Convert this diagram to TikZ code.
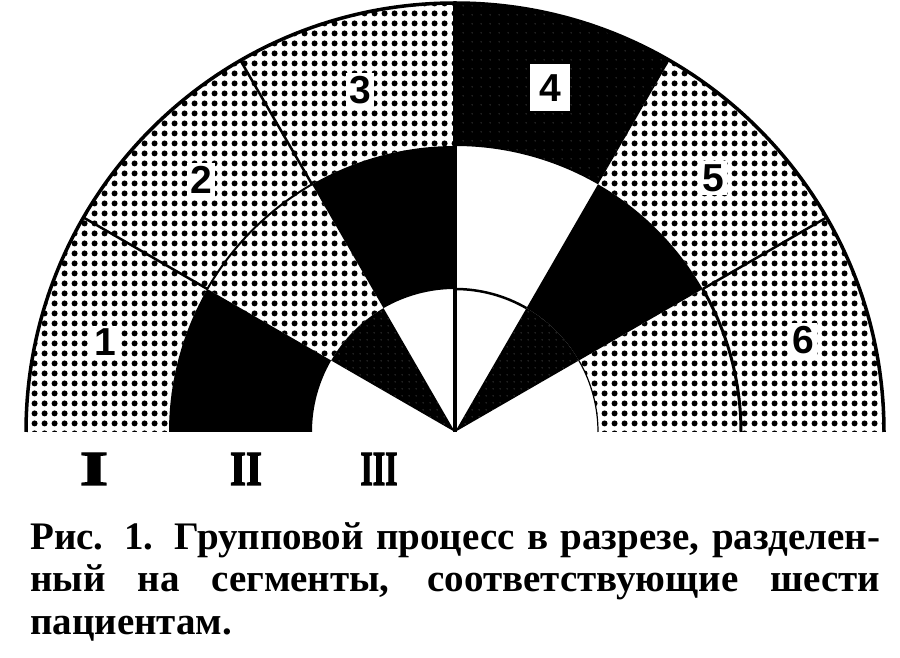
\documentclass[tikz,border=0pt]{standalone}
\usepackage{fontspec}
\setmainfont{Liberation Serif}
\setsansfont{Liberation Sans}
\newfontfamily\heavyserif{Liberation Serif}[FakeBold=3]
\usetikzlibrary{patterns}
\pgfdeclarepatternformonly{halftone}{\pgfqpoint{0pt}{0pt}}{\pgfqpoint{10pt}{10pt}}{\pgfqpoint{10pt}{10pt}}{\pgfpathcircle{\pgfqpoint{5pt}{5pt}}{3.3pt}\pgfusepath{fill}}
\pgfdeclarepatternformonly{specks}{\pgfqpoint{0pt}{0pt}}{\pgfqpoint{7pt}{7pt}}{\pgfqpoint{7pt}{7pt}}{\pgfpathcircle{\pgfqpoint{3.5pt}{3.5pt}}{0.45pt}\pgfusepath{fill}}
\pgfdeclarepatternformonly{sparsespecks}{\pgfqpoint{0pt}{0pt}}{\pgfqpoint{9pt}{9pt}}{\pgfqpoint{9pt}{9pt}}{\pgfpathcircle{\pgfqpoint{4.5pt}{4.5pt}}{0.4pt}\pgfusepath{fill}}
% ring segment: style, start angle, end angle, inner radius, outer radius
\newcommand{\ringseg}[5]{\path[#1] (#2:#5) arc[start angle=#2, end angle=#3, radius=#5] -- (#3:#4) arc[start angle=#3, end angle=#2, radius=#4] -- cycle;}
\begin{document}
\begin{tikzpicture}[x=1pt,y=1pt,
  lite/.style={pattern=halftone, pattern color=black},
  blackfill/.style={fill=black},
  speckfill/.style={pattern=specks, pattern color=white},
  sparsefill/.style={pattern=sparsespecks, pattern color=white},
  border/.style={line width=3.5pt},
  divider/.style={line width=2.5pt},
  digit/.style={font=\sffamily\bfseries\fontsize{39}{39}\selectfont, fill=white, inner sep=3pt, text=black},
  roman/.style={inner sep=0pt},
  capline/.style={anchor=base west, inner sep=0pt, font=\fontsize{39}{44}\selectfont\bfseries}]
\useasboundingbox (0,0) rectangle (900,658);
\fill[white] (0,0) rectangle (900,658);
\begin{scope}[shift={(455,226)}]
  % sector 1 (150-180)
  \ringseg{lite}{150}{180}{286}{429}
  \ringseg{blackfill}{150}{180}{143}{286}
  % sector 2 (120-150)
  \ringseg{lite}{120}{150}{143}{429}
  \ringseg{blackfill}{120}{150}{0.01}{143}
  \ringseg{speckfill}{120}{150}{0.01}{143}
  % sector 3 (90-120)
  \ringseg{lite}{90}{120}{286}{429}
  \ringseg{blackfill}{90}{120}{143}{286}
  % sector 4 (60-90)
  \ringseg{blackfill}{60}{90}{286}{429}
  \ringseg{sparsefill}{60}{90}{286}{429}
  % sector 5 (30-60)
  \ringseg{lite}{30}{60}{286}{429}
  \ringseg{blackfill}{30}{60}{143}{286}
  \ringseg{blackfill}{30}{60}{0.01}{143}
  \ringseg{speckfill}{30}{60}{0.01}{143}
  % sector 6 (0-30)
  \ringseg{lite}{0}{30}{143}{429}
  % lines
  \draw[border] (0:429) arc[start angle=0, end angle=180, radius=429];
  \draw[divider] (150:286) -- (150:429);
  \draw[divider] (120:286) -- (120:429);
  \draw[divider] (30:286) -- (30:429);
  \draw[line width=4pt] (0,0) -- (90:429);
  \draw[line width=2pt] (120:286) arc[start angle=120, end angle=150, radius=286];
  \draw[line width=3pt] (0:286) arc[start angle=0, end angle=30, radius=286];
  \draw[line width=2.5pt] (60:143) arc[start angle=60, end angle=90, radius=143];
  \draw[line width=1.2pt] (0:143) arc[start angle=0, end angle=30, radius=143];
\end{scope}
% segment numbers
\node[digit] (n1) at (105,316) {1};
\node[digit] (n2) at (201,478) {2};
\node[digit] (n3) at (360,568) {3};
\node[digit, minimum width=40pt, minimum height=47pt] (n4) at (550,570) {4};
\node[digit] (n5) at (713,480) {5};
\node[digit] (n6) at (803,318) {6};
% ring numerals
\node[roman] (r1) at (94,189) {\resizebox{28pt}{32pt}{\heavyserif\bfseries I}};
\node[roman] (r2) at (246,189) {\resizebox{32pt}{32pt}{\heavyserif\bfseries II}};
\node[roman] (r3) at (379,189) {\resizebox{37pt}{32pt}{\heavyserif\bfseries III}};
% caption
\node[capline] (c1) at (30,108) {\makebox[850pt][s]{Рис. 1. Групповой процесс в разрезе, разделен-}};
\node[capline] (c2) at (30,66) {\makebox[850pt][s]{ный на сегменты, соответствующие шести}};
\node[capline] (c3) at (30,23) {пациентам.};
\end{tikzpicture}
\end{document}
